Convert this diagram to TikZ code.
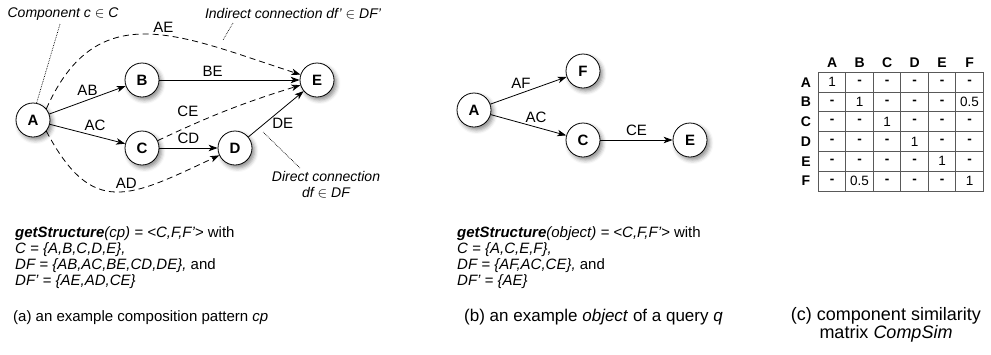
\documentclass[tikz,border=0pt]{standalone}
\usepackage{fontspec}
\setmainfont{Liberation Sans}
\usetikzlibrary{arrows.meta,shadows.blur}
\definecolor{tabline}{gray}{0.35}
\newcommand\tabdash{\textbf{-}}
\begin{document}
\begin{tikzpicture}[x=1pt,y=1pt,
  comp/.style={circle, draw, line width=0.8pt, fill=white, minimum size=34pt, inner sep=0pt,
    font=\bfseries\fontsize{15}{15}\selectfont,
    blur shadow={shadow xshift=2.5pt, shadow yshift=-3pt, shadow blur radius=4pt, shadow opacity=45}},
  conn/.style={line width=0.8pt, -{Stealth[length=9pt,width=6.5pt,inset=2.5pt]}},
  indir/.style={conn, dash pattern=on 6pt off 4pt},
  lab/.style={font=\fontsize{15}{15}\selectfont, inner sep=1pt},
  note/.style={font=\itshape\fontsize{14}{16}\selectfont, inner sep=0pt},
  pointer/.style={densely dotted, line width=0.7pt},
  block/.style={font=\fontsize{15}{16}\selectfont, align=left, inner sep=0pt, anchor=north west},
  capt/.style={font=\fontsize{15}{17}\selectfont, inner sep=0pt},
  cell/.style={draw=tabline, line width=0.8pt, minimum width=27.5pt, minimum height=19.8pt,
    inner sep=0pt, outer sep=0pt, anchor=center, font=\fontsize{13.5}{13.5}\selectfont},
  hdr/.style={font=\bfseries\fontsize{14}{14}\selectfont, inner sep=0pt}
]
\useasboundingbox (0,0) rectangle (991,-354);

% ---------- (a) composition pattern ----------
\node[comp] (A) at (33,-120) {A};
\node[comp] (B) at (142,-80) {B};
\node[comp] (C) at (142,-148) {C};
\node[comp] (D) at (235,-148) {D};
\node[comp] (E) at (317,-80) {E};

\draw[conn] (A) -- node[lab, pos=0.5, above=3pt] {AB} (B);
\draw[conn] (A) -- node[lab, pos=0.6, above=4pt] {AC} (C);
\draw[conn] (B) -- node[lab, pos=0.38, above=2pt] {BE} (E);
\draw[conn] (C) -- node[lab, midway, above=3pt] {CD} (D);
\draw[conn] (D) -- node[lab, pos=0.3, right=6pt] {DE} (E);
\draw[indir] (C) to[bend left=4] node[lab, pos=0.2, above=9pt] {CE} (E);
\draw[indir] (A.40) to[out=66, in=162, looseness=1.25] node[lab, pos=0.56, above=1pt] {AE} (E);
\draw[indir] (A.-40) to[out=-62, in=205, looseness=1.45] node[lab, pos=0.56, above=1pt] {AD} (D);

\node[note] (ncomp) at (63,-14) {Component \textit{c} $\in$ \textit{C}};
\draw[pointer] (60,-24) -- (A.78);

\node[note] (nind) at (293,-14) {Indirect connection \textit{df'} $\in$ \textit{DF'}};
\coordinate (aept) at (223,-40);
\draw[pointer] (233,-23) -- (aept);

\node[note, align=center] (ndir) at (326,-185) {Direct connection\\ \textit{df} $\in$ \textit{DF}};
\coordinate (dept) at (263,-132);
\draw[pointer] (dept) -- (300,-168);

\node[block] (txta) at (15,-226) {\textbf{\textit{getStructure}}\textit{(cp) = <C,F,F'>} with\\
\textit{C = \{A,B,C,D,E\},}\\
\textit{DF = \{AB,AC,BE,CD,DE\},} and\\
\textit{DF' = \{AE,AD,CE\}}};

\node[capt, anchor=base west] (capa) at (13,-321) {(a) an example composition pattern \textit{cp}};

% ---------- (b) object of a query ----------
\node[comp] (bA) at (474,-110) {A};
\node[comp] (bF) at (583,-71) {F};
\node[comp] (bC) at (583,-140) {C};
\node[comp] (bE) at (690,-140) {E};

\draw[conn] (bA) -- node[lab, pos=0.4, above=3pt] {AF} (bF);
\draw[conn] (bA) -- node[lab, pos=0.6, above=3pt] {AC} (bC);
\draw[conn] (bC) -- node[lab, midway, above=3pt] {CE} (bE);

\node[block] (txtb) at (457,-226) {\textbf{\textit{getStructure}}\textit{(object) = <C,F,F'>} with\\
\textit{C = \{A,C,E,F\},}\\
\textit{DF = \{AF,AC,CE\},} and\\
\textit{DF' = \{AE\}}};

\node[capt, anchor=base east, font=\fontsize{17}{19}\selectfont] (capb) at (723,-321) {(b) an example \textit{object} of a query \textit{q}};

% ---------- (c) similarity matrix ----------
\foreach \row [count=\r] in {{1,\tabdash,\tabdash,\tabdash,\tabdash,\tabdash},
  {\tabdash,1,\tabdash,\tabdash,\tabdash,0.5},
  {\tabdash,\tabdash,1,\tabdash,\tabdash,\tabdash},
  {\tabdash,\tabdash,\tabdash,1,\tabdash,\tabdash},
  {\tabdash,\tabdash,\tabdash,\tabdash,1,\tabdash},
  {\tabdash,0.5,\tabdash,\tabdash,\tabdash,1}} {
  \foreach \v [count=\c] in \row {
    \node[cell] (sim-\r-\c) at (818.3+27.5*\c-13.75, -72.3-19.78*\r+9.89) {\v};
  }
}
\foreach \l [count=\i] in {A,B,C,D,E,F} {
  \node[hdr] (col\l) at (sim-1-\i |- 0,-63) {\l};
  \node[hdr] (row\l) at (806,0 |- sim-\i-1) {\l};
}

\node[capt, align=center, anchor=base, font=\fontsize{18}{16}\selectfont] (capc) at (886,-338) {(c) component similarity\\ matrix \textit{CompSim}};
\end{tikzpicture}
\end{document}
